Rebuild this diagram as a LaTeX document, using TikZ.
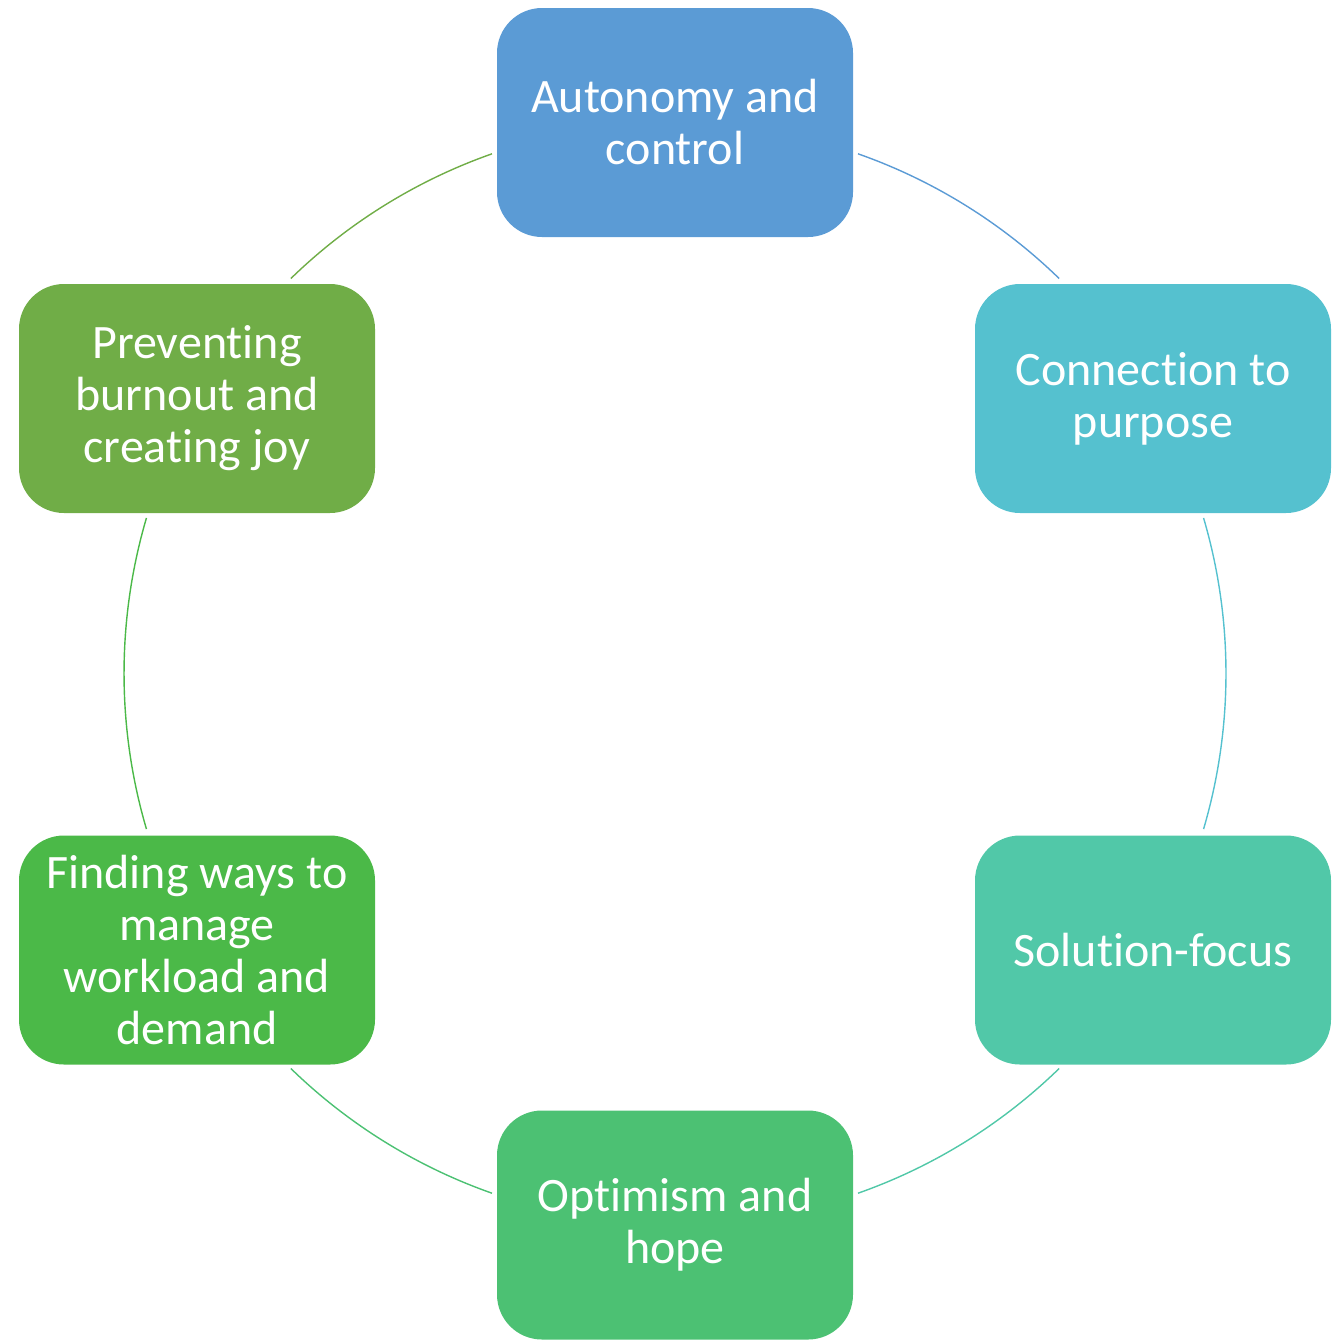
\documentclass[tikz,border=0pt]{standalone}
\usepackage{fontspec}
\setmainfont[RawFeature={-liga;-clig;-calt;-dlig}]{Carlito}
\newcommand{\nolig}{\kern0pt{}}
\definecolor{cTop}{HTML}{5B9BD5}
\definecolor{cRT}{HTML}{55C1CF}
\definecolor{cRB}{HTML}{51C8A8}
\definecolor{cB}{HTML}{4CC173}
\definecolor{cLB}{HTML}{4BB948}
\definecolor{cLT}{HTML}{70AD47}
\begin{document}
\begin{tikzpicture}[x=0.5pt,y=-0.5pt,
  box/.style={rounded corners=22.5pt, minimum width=178pt, minimum height=114.5pt,
    inner sep=0pt, text=white, align=center, font=\fontsize{24}{26}\selectfont},
  arcline/.style={line width=0.7pt}]
\useasboundingbox (0,0) rectangle (1342,1339);
\coordinate (o) at (675,673.5);
\node[box, fill=cTop] (a) at (675,122.5) {Autonomy and\\control};
\node[box, fill=cRT] (b) at (1153,398.5) {Connect\nolig ion to\\purpose};
\node[box, fill=cRB] (c) at (1153,950) {Solut\nolig ion-focus};
\node[box, fill=cB] (d) at (675,1225) {Opt\nolig imism and\\hope};
\node[box, fill=cLB] (e) at (197,950) {Finding ways to\\manage\\workload and\\demand};
\node[box, fill=cLT] (f) at (197,398.5) {Prevent\nolig ing\\burnout and\\creat\nolig ing joy};
\draw[arcline, cTop] (o) ++(-70.6:551) arc[start angle=-70.6, end angle=-45.8, radius=551];
\draw[arcline, cRT] (o) ++(-16.4:551) arc[start angle=-16.4, end angle=16.4, radius=551];
\draw[arcline, cRB] (o) ++(45.8:551) arc[start angle=45.8, end angle=70.6, radius=551];
\draw[arcline, cB] (o) ++(109.4:551) arc[start angle=109.4, end angle=134.2, radius=551];
\draw[arcline, cLB] (o) ++(163.6:551) arc[start angle=163.6, end angle=196.4, radius=551];
\draw[arcline, cLT] (o) ++(225.8:551) arc[start angle=225.8, end angle=250.6, radius=551];
\end{tikzpicture}
\end{document}
